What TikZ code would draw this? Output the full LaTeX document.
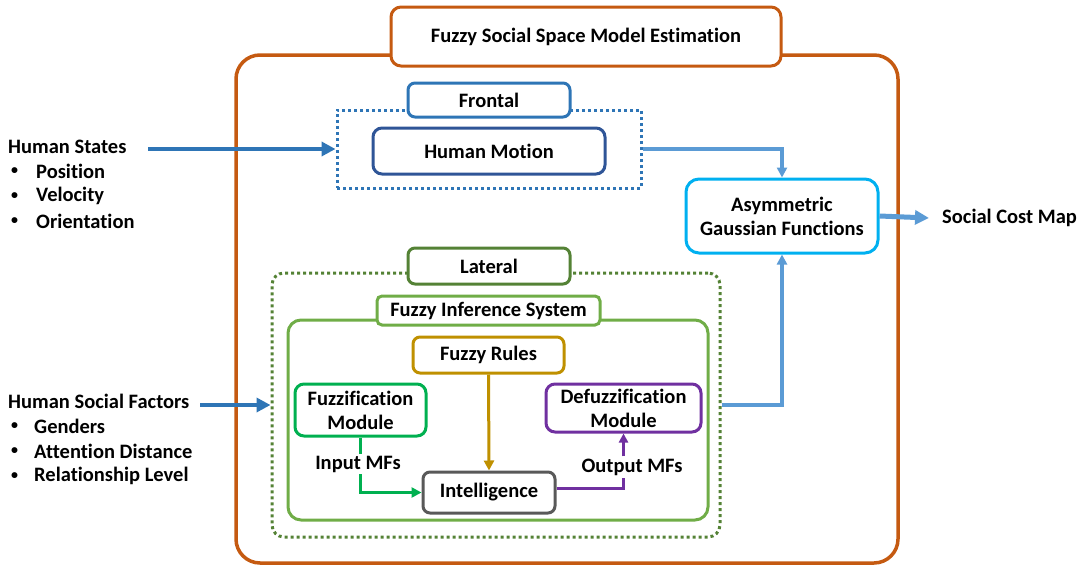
\documentclass[tikz,border=0pt]{standalone}
\usepackage{fontspec}
\setmainfont{Carlito}[Ligatures={NoCommon}]
\usetikzlibrary{arrows.meta}
\definecolor{cOrange}{HTML}{C55A11}
\definecolor{cFront}{HTML}{2E75B6}
\definecolor{cMotion}{HTML}{2F5597}
\definecolor{cAsym}{HTML}{00B0F0}
\definecolor{cLight}{HTML}{5B9BD5}
\definecolor{cLat}{HTML}{548235}
\definecolor{cFis}{HTML}{70AD47}
\definecolor{cRules}{HTML}{BF9000}
\definecolor{cFuzz}{HTML}{00B050}
\definecolor{cDefuzz}{HTML}{7030A0}
\definecolor{cIntel}{HTML}{595959}
\tikzset{
  box/.style={draw, fill=white, line width=3pt, rounded corners=7pt, align=center, inner sep=0pt},
  dotbox/.style={draw, line width=3pt, dash pattern=on 3pt off 3pt, inner sep=0pt},
  txt/.style={inner sep=0pt, anchor=west},
  bul/.style={inner sep=0pt, anchor=west, font=\fontsize{14}{18}\selectfont\bfseries},
  bigarrow/.style={line width=4pt, -{Triangle[length=14pt,width=14pt]}},
  thinarrow/.style={line width=3pt, -{Triangle[length=10pt,width=10pt]}},
  smallarrow/.style={line width=3pt, -{Triangle[length=9pt,width=9pt]}},
}
\begin{document}
\begin{tikzpicture}[x=1pt,y=-1pt,font=\fontsize{20.5}{24}\selectfont\bfseries]
\useasboundingbox (0,0) rectangle (1081,565);
% outer box and title
\node[draw=cOrange, line width=3.5pt, rounded corners=24pt, minimum width=662pt, minimum height=508pt, inner sep=0pt] (outer) at (567,309) {};
\node[box, draw=cOrange, minimum width=390pt, minimum height=59pt, rounded corners=10pt] (title) at (586,36.5) {Fuzzy Social Space Model Estimation};
% frontal
\node[dotbox, draw=cFront, minimum width=304pt, minimum height=78pt] (frontdot) at (489,149) {};
\node[box, draw=cFront, minimum width=162pt, minimum height=34pt] (frontal) at (489,100) {Frontal};
\node[box, draw=cMotion, minimum width=232pt, minimum height=46pt, rounded corners=9pt] (motion) at (489,151) {Human Motion};
% asymmetric
\node[box, draw=cAsym, minimum width=192pt, minimum height=74pt, rounded corners=13pt] (asym) at (782,216) {Asymmetric\\Gaussian Functions};
\node[txt] (scm) at (942,218) {Social Cost Map};
% lateral
\node[dotbox, draw=cLat, minimum width=448pt, minimum height=264pt, rounded corners=12pt] (latdot) at (496,405) {};
\node[box, draw=cLat, minimum width=162pt, minimum height=36pt] (lateral) at (489,266) {Lateral};
\node[draw=cFis, line width=3pt, rounded corners=13pt, minimum width=420pt, minimum height=200pt, inner sep=0pt] (fis) at (498,420) {};
\node[box, draw=cFis, minimum width=223pt, minimum height=29pt, rounded corners=5pt] (fislabel) at (488.5,310.5) {Fuzzy Inference System};
\node[box, draw=cRules, minimum width=151pt, minimum height=36pt] (rules) at (488.5,355) {Fuzzy Rules};
\node[box, draw=cFuzz, minimum width=131pt, minimum height=52pt, rounded corners=9pt] (fuzz) at (360.5,410) {Fuzzification\\Module};
\node[box, draw=cDefuzz, minimum width=155pt, minimum height=48pt, rounded corners=9pt] (defuzz) at (623.5,408) {Defuzzification\\Module};
\node[box, draw=cIntel, minimum width=132pt, minimum height=41pt] (intel) at (489,492.5) {Intelligence};
\node[inner sep=2pt] (inmf) at (358,464) {Input MFs};
\node[inner sep=2pt] (outmf) at (632,467) {Output MFs};
% inner connectors
\draw[thinarrow, draw=cRules] (rules.south) -- (intel.north);
\draw[line width=3pt, draw=cFuzz] (fuzz.south) -- (fuzz.south |- inmf.north);
\draw[thinarrow, draw=cFuzz] (fuzz.south |- inmf.south) |- (intel.west);
\draw[line width=3pt, draw=cDefuzz] ([yshift=4pt]intel.east) -| (defuzz.south |- outmf.south);
\draw[smallarrow, draw=cDefuzz] (defuzz.south |- outmf.north) -- (defuzz.south);
% left texts
\node[txt] (hs) at (8,147) {Human States};
\node[bul] (hsb1) at (11,171) {•};
\node[txt] (hs1) at (36,171) {Position};
\node[bul] (hsb2) at (11,196) {•};
\node[txt] (hs2) at (36,196) {Velocity};
\node[bul] (hsb3) at (11,221) {•};
\node[txt] (hs3) at (36,221) {Orientation};
\node[txt] (hf) at (8,401) {Human Social Factors};
\node[bul] (hfb1) at (11,426) {•};
\node[txt] (hf1) at (34,426) {Genders};
\node[bul] (hfb2) at (11,451) {•};
\node[txt] (hf2) at (34,451) {Attention Distance};
\node[bul] (hfb3) at (11,476) {•};
\node[txt] (hf3) at (34,476) {Relationship Level};
% main connectors
\coordinate (hsout) at (148,149);
\coordinate (hfout) at (200,405);
\draw[bigarrow, draw=cFront] (hsout) -- (frontdot.west);
\draw[bigarrow, draw=cFront] (hfout) -- (latdot.west);
\draw[thinarrow, draw=cLight, line width=3.5pt] (frontdot.east) -| (asym.north);
\draw[thinarrow, draw=cLight, line width=3.5pt] (latdot.east) -| (asym.south);
\draw[bigarrow, draw=cLight, line width=5pt] (asym.east) -- ([xshift=-13pt]scm.west);
\end{tikzpicture}
\end{document}
